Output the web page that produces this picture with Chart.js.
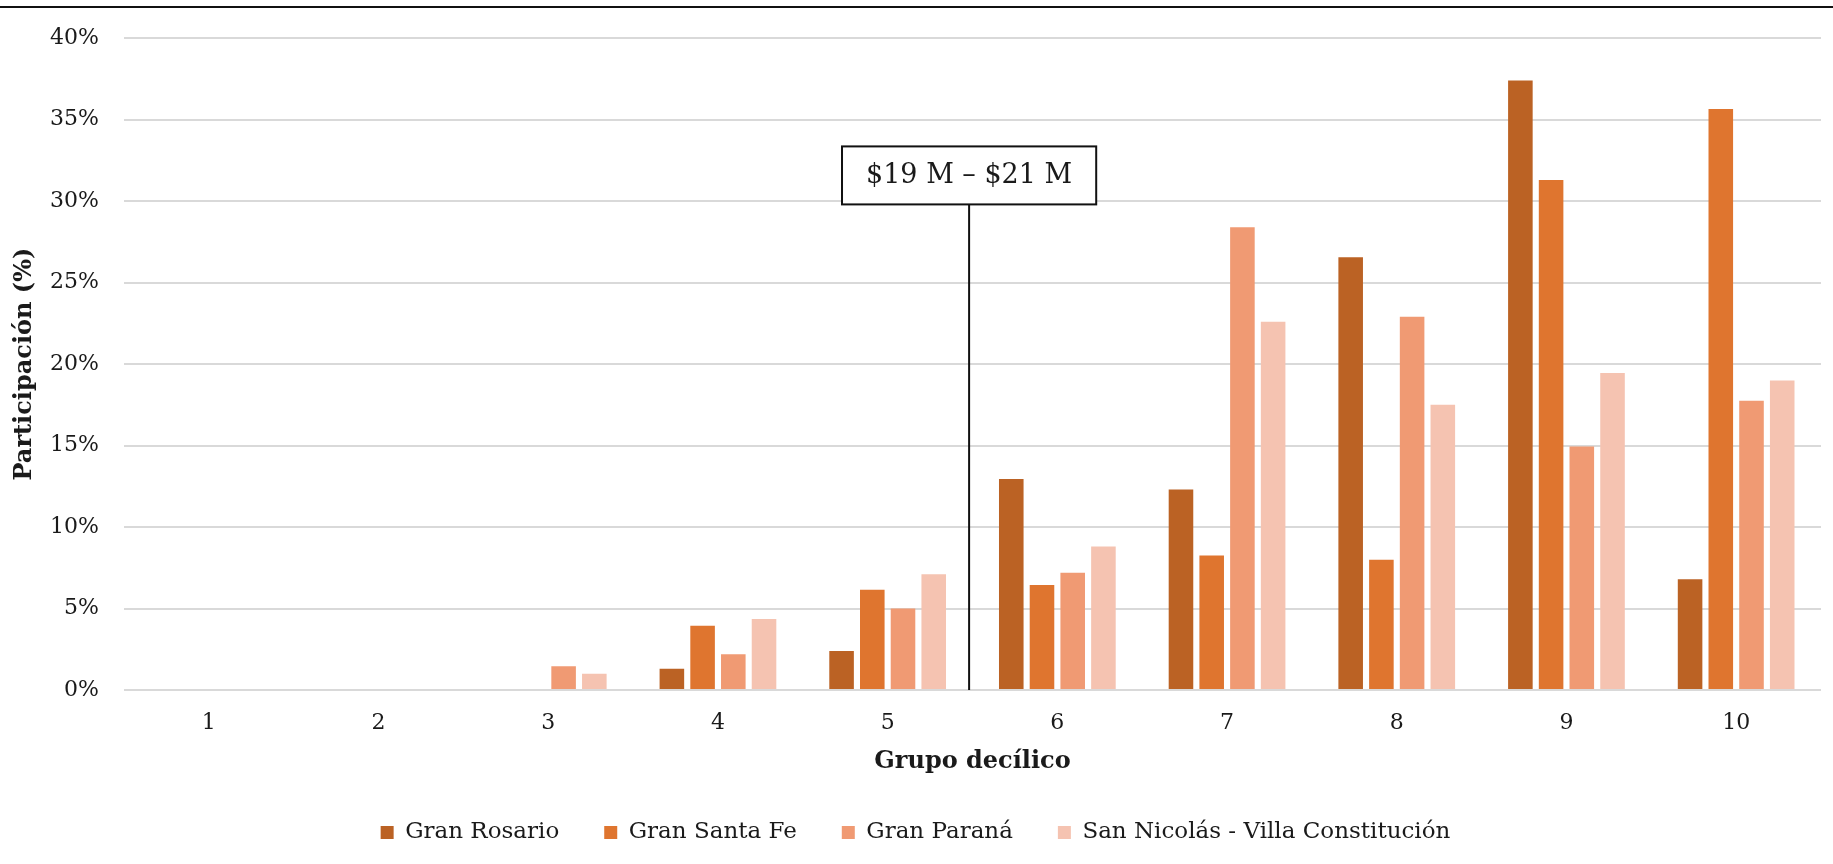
<!DOCTYPE html>
<html lang="es">
<head>
<meta charset="utf-8">
<title>Participación por grupo decílico</title>
<script src="https://cdn.jsdelivr.net/npm/chart.js@4.4.1/dist/chart.umd.min.js"></script>
<style>
  html, body { margin: 0; padding: 0; background: #ffffff; }
  #wrap { width: 1833px; height: 864px; }
</style>
</head>
<body>
<div id="wrap"><canvas id="chart" width="1833" height="864"></canvas></div>
<script>
// Deciles de ingreso (eje X)
const deciles = ['1', '2', '3', '4', '5', '6', '7', '8', '9', '10'];

// Participación (%) de cada aglomerado por decil
const granRosario   = [0, 0, 0,    1.3,  2.4,  12.95, 12.3, 26.55, 37.4,  6.8];
const granSantaFe   = [0, 0, 0,    3.95, 6.15, 6.45,  8.25, 8.0,   31.3,  35.65];
const granParana    = [0, 0, 1.45, 2.2,  5.0,  7.2,   28.4, 22.9,  14.95, 17.75];
const sanNicolasVC  = [0, 0, 1.0,  4.35, 7.1,  8.8,   22.6, 17.5,  19.45, 19.0];

const seriesNames = ['Gran Rosario', 'Gran Santa Fe', 'Gran Paraná', 'San Nicolás - Villa Constitución'];
const seriesColors = ['#BB6224', '#DF752F', '#F09A73', '#F5C3B1'];

// Ticks del eje Y
const yTicks = [0, 5, 10, 15, 20, 25, 30, 35, 40];

// Marca del rango de ingreso entre los deciles 5 y 6
const markerLabel = '$19 M – $21 M';
const markerX = 4.48;     // posición sobre la escala de categorías
const markerTop = 29.8;   // altura (%) donde termina la línea

const FONT = '"DejaVu Serif", Georgia, serif';
const TEXT = '#1a1a1a';

const pageFrame = {
  id: 'pageFrame',
  beforeDraw(chart) {
    const { ctx, width, height } = chart;
    ctx.save();
    ctx.fillStyle = '#ffffff';
    ctx.fillRect(0, 0, width, height);
    ctx.fillStyle = '#111111';
    ctx.fillRect(0, 6, width, 2);
    ctx.restore();
  }
};

const rangeMarker = {
  id: 'rangeMarker',
  afterDatasetsDraw(chart) {
    const { ctx, scales: { x, y } } = chart;
    const px = x.getPixelForValue(markerX);
    const yBase = y.getPixelForValue(0);
    const yTop = y.getPixelForValue(markerTop);
    ctx.save();
    ctx.strokeStyle = '#111111';
    ctx.lineWidth = 2;
    ctx.beginPath();
    ctx.moveTo(px, yBase);
    ctx.lineTo(px, yTop);
    ctx.stroke();

    ctx.font = '27px ' + FONT;
    const tw = ctx.measureText(markerLabel).width;
    const bw = tw + 48;
    const bh = 58;
    const bx = px - bw / 2;
    const by = yTop - bh;
    ctx.fillStyle = '#ffffff';
    ctx.fillRect(bx, by, bw, bh);
    ctx.strokeRect(bx, by, bw, bh);
    ctx.fillStyle = TEXT;
    ctx.textAlign = 'center';
    ctx.textBaseline = 'middle';
    ctx.fillText(markerLabel, px, by + bh / 2 + 1);
    ctx.restore();
  }
};

const seriesData = [granRosario, granSantaFe, granParana, sanNicolasVC];

new Chart(document.getElementById('chart'), {
  type: 'bar',
  data: {
    labels: deciles,
    datasets: seriesData.map((values, i) => ({
      label: seriesNames[i],
      data: values,
      backgroundColor: seriesColors[i],
      borderWidth: 0,
      barPercentage: 0.8,
      categoryPercentage: 0.724
    }))
  },
  options: {
    responsive: false,
    animation: false,
    layout: { padding: { top: 37, left: 10, right: 12, bottom: 10 } },
    plugins: {
      tooltip: { enabled: false },
      legend: {
        position: 'bottom',
        labels: {
          boxWidth: 13,
          boxHeight: 13,
          padding: 45,
          color: TEXT,
          font: { family: FONT, size: 23 }
        }
      }
    },
    scales: {
      x: {
        grid: { display: false, drawTicks: false },
        border: { display: false },
        ticks: { color: TEXT, padding: 20, font: { family: FONT, size: 22 } },
        title: {
          display: true,
          text: 'Grupo decílico',
          color: TEXT,
          padding: { top: 10, bottom: 0 },
          font: { family: FONT, size: 24, weight: 'bold' }
        },
        afterFit(scale) { scale.height = 86; }
      },
      y: {
        min: 0,
        max: 40,
        afterBuildTicks(scale) { scale.ticks = yTicks.map(v => ({ value: v })); },
        grid: { color: '#d9d9d9', lineWidth: 2, drawTicks: false },
        border: { display: false },
        ticks: {
          color: TEXT,
          padding: 25,
          font: { family: FONT, size: 22 },
          callback: v => v + '%'
        },
        title: {
          display: true,
          text: 'Participación (%)',
          color: TEXT,
          padding: { top: 0, bottom: 0 },
          font: { family: FONT, size: 24, weight: 'bold' }
        },
        afterFit(scale) { scale.width = 114; }
      }
    }
  },
  plugins: [pageFrame, rangeMarker]
});
</script>
</body>
</html>
